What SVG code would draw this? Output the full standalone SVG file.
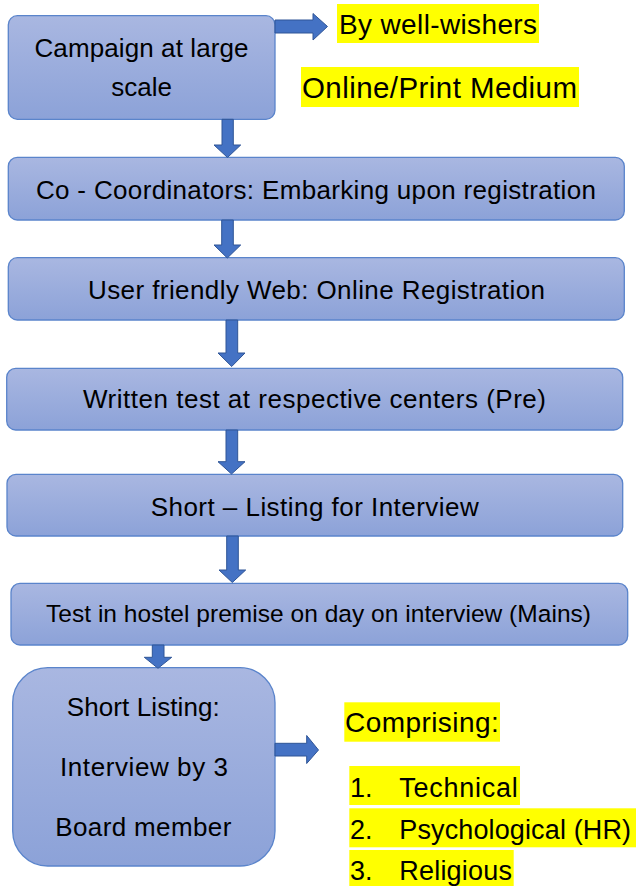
<svg xmlns="http://www.w3.org/2000/svg" width="636" height="886" viewBox="0 0 636 886">
  <defs>
    <linearGradient id="boxGrad" x1="0" y1="0" x2="0" y2="1">
      <stop offset="0" stop-color="#a9b7e1"/>
      <stop offset="1" stop-color="#8ca2d8"/>
    </linearGradient>
    <style>
      .box { fill: url(#boxGrad); stroke: #5a84cb; stroke-width: 1.3; }
      .lbl { font-family: "Liberation Sans", Arial, sans-serif; font-size: 26px; fill: #000; text-anchor: middle; }
      .note { font-family: "Liberation Sans", Arial, sans-serif; font-size: 27px; fill: #000; }
      .hl { fill: #ffff00; }
      .arrow { fill: #4472c4; stroke: #2f5597; stroke-width: 1; stroke-linejoin: miter; }
    </style>
  </defs>

  <rect width="636" height="886" fill="#ffffff"/>

  <g id="nodes">
    <g id="n1">
      <rect class="box" x="8.3" y="15.7" width="266.7" height="103.6" rx="9"/>
      <text class="lbl" x="141.5" y="56.7" textLength="214">Campaign at large</text>
      <text class="lbl" x="141.7" y="96">scale</text>
    </g>
    <g id="n2">
      <rect class="box" x="8.3" y="157.3" width="616" height="62.7" rx="9"/>
      <text class="lbl" x="315.9" y="199.3" textLength="560">Co - Coordinators: Embarking upon registration</text>
    </g>
    <g id="n3">
      <rect class="box" x="8.3" y="257.7" width="616" height="62.3" rx="9"/>
      <text class="lbl" x="316.5" y="299" textLength="457">User friendly Web: Online Registration</text>
    </g>
    <g id="n4">
      <rect class="box" x="6.7" y="368.3" width="616" height="61.7" rx="9"/>
      <text class="lbl" x="314.5" y="408.3" textLength="463">Written test at respective centers (Pre)</text>
    </g>
    <g id="n5">
      <rect class="box" x="7" y="474.3" width="615.7" height="61.7" rx="9"/>
      <text class="lbl" x="314.7" y="515.7" textLength="328">Short – Listing for Interview</text>
    </g>
    <g id="n6">
      <rect class="box" x="11" y="583.3" width="616.7" height="61.7" rx="9"/>
      <text class="lbl" x="318.5" y="621.7" style="font-size:24.5px" textLength="545">Test in hostel premise on day on interview (Mains)</text>
    </g>
    <g id="n7">
      <rect class="box" x="12.7" y="667.7" width="262.3" height="198.3" rx="35"/>
      <text class="lbl" x="143.3" y="716" textLength="153">Short Listing:</text>
      <text class="lbl" x="144" y="776" textLength="168">Interview by 3</text>
      <text class="lbl" x="143.3" y="836" textLength="176">Board member</text>
    </g>
    <g id="note-wellwishers">
      <rect class="hl" x="337" y="4" width="202" height="39"/>
      <text class="note" x="339" y="34" style="font-size:28px" textLength="198">By well-wishers</text>
    </g>
    <g id="note-medium">
      <rect class="hl" x="301" y="67" width="278" height="40"/>
      <text class="note" x="302" y="98" style="font-size:29.5px" textLength="275">Online/Print Medium</text>
    </g>
    <g id="note-comprising">
      <rect class="hl" x="344.3" y="702.3" width="155.7" height="39.4"/>
      <text class="note" x="345" y="731.7" style="font-size:28px" textLength="153.7">Comprising:</text>
    </g>
    <g id="note-list">
      <rect class="hl" x="349.3" y="766" width="170.7" height="39"/>
      <rect class="hl" x="349.3" y="808.3" width="286.7" height="39"/>
      <rect class="hl" x="349.3" y="850" width="164.4" height="36"/>
      <text class="note" x="350" y="796.7">1.</text>
      <text class="note" x="399.3" y="796.7" textLength="118.4">Technical</text>
      <text class="note" x="350" y="839.3">2.</text>
      <text class="note" x="399.3" y="839.3" textLength="231.7">Psychological (HR)</text>
      <text class="note" x="350" y="880">3.</text>
      <text class="note" x="399.3" y="880" textLength="112.7">Religious</text>
    </g>
  </g>

  <g id="connectors">
    <polygon class="arrow" points="275,20 313,20 313,13.5 327.5,26.5 313,40 313,33 275,33"/>
    <polygon class="arrow" points="222,119.3 233.3,119.3 233.3,145 240.7,145 227.5,157.5 214,145 222,145"/>
    <polygon class="arrow" points="221.7,220 233.3,220 233.3,245 240.7,245 227.3,258 214,245 221.7,245"/>
    <polygon class="arrow" points="226,320 237.7,320 237.7,353 245,353 231.7,366.5 218,353 226,353"/>
    <polygon class="arrow" points="226,430 237.7,430 237.7,461.7 245,461.7 231.5,474 218,461.7 226,461.7"/>
    <polygon class="arrow" points="226.7,536 238.3,536 238.3,570 245.7,570 232.3,582.5 219,570 226.7,570"/>
    <polygon class="arrow" points="152.3,645 164,645 164,657.3 171.7,657.3 158,668.3 144.3,657.3 152.3,657.3"/>
    <polygon class="arrow" points="275,743.3 306.7,743.3 306.7,735.5 318.5,750 306.7,763.5 306.7,756 275,756"/>
  </g>
</svg>
